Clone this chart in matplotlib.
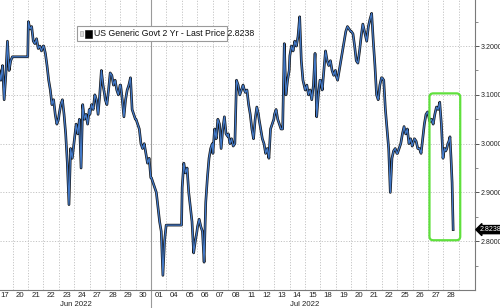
import numpy as np
import matplotlib
matplotlib.use("Agg")
import matplotlib.pyplot as plt
from matplotlib.patches import FancyBboxPatch, Rectangle
import matplotlib.transforms as mtransforms

plt.rcParams['font.family'] = ['Liberation Sans Narrow', 'Liberation Sans', 'DejaVu Sans']

# ---------------- data ----------------
june_days = ['17', '20', '21', '22', '23', '24', '27', '28', '29', '30']
july_days = ['01', '04', '05', '06', '07', '08', '11', '12', '13', '14', '15',
             '18', '19', '20', '21', '22', '25', '26', '27', '28']
month_labels = ['Jun 2022', 'Jul 2022']

# intraday samples (yield %) for each trading day, evenly spaced in the day
june_yields = [
    [3.16, 3.15, 3.13, 3.16, 3.09, 3.14, 3.21, 3.15, 3.17, 3.178],   # Jun 17
    [3.178, 3.178],                                                 # Jun 20 (holiday)
    [3.25, 3.235, 3.24, 3.21, 3.205, 3.215, 3.195, 3.20, 3.19, 3.20],
    [3.20, 3.185, 3.16, 3.13, 3.11, 3.08, 3.09, 3.06, 3.04, 3.05],
    [3.06, 3.08, 3.09, 3.06, 3.02, 2.96, 2.875, 2.99, 2.97, 3.00],
    [3.01, 3.04, 3.02, 3.05, 2.95, 3.08, 3.05, 3.06, 3.04, 3.07],
    [3.06, 3.08, 3.07, 3.10, 3.09, 3.06, 3.10, 3.15, 3.12, 3.10],
    [3.09, 3.08, 3.11, 3.145, 3.14, 3.12, 3.13, 3.11, 3.10, 3.12],
    [3.12, 3.09, 3.055, 3.09, 3.11, 3.12, 3.135, 3.07, 3.06, 3.05],
    [3.05, 3.04, 3.03, 3.00, 2.99, 3.00, 2.98, 2.96, 2.97, 2.93],
]
july_yields = [
    [2.93, 2.92, 2.91, 2.90, 2.87, 2.84, 2.82, 2.73, 2.80, 2.833],   # Jul 01
    [2.833, 2.833],                                                 # Jul 04 (holiday)
    [2.91, 2.96, 2.94, 2.95, 2.90, 2.87, 2.84, 2.776, 2.80, 2.82],
    [2.83, 2.845, 2.83, 2.82, 2.757, 2.88, 2.93, 2.97, 2.99, 3.00],
    [2.98, 3.03, 3.01, 3.05, 3.04, 2.99, 3.03, 3.055, 3.02, 3.015],
    [3.02, 3.00, 3.01, 2.995, 3.00, 3.13, 3.12, 3.10, 3.11, 3.12],
    [3.115, 3.105, 3.11, 3.08, 3.06, 3.03, 3.01, 3.05, 3.075, 3.06],
    [3.05, 3.03, 3.01, 3.00, 2.98, 2.99, 2.97, 3.03, 3.04, 3.05],
    [3.06, 3.07, 3.05, 3.04, 3.03, 3.03, 3.205, 3.10, 3.13, 3.15],
    [3.18, 3.20, 3.19, 3.21, 3.20, 3.22, 3.26, 3.17, 3.13, 3.115],
    [3.11, 3.12, 3.10, 3.11, 3.09, 3.12, 3.185, 3.055, 3.10, 3.13],
    [3.13, 3.11, 3.15, 3.19, 3.17, 3.16, 3.17, 3.15, 3.14, 3.15],
    [3.14, 3.13, 3.15, 3.17, 3.19, 3.21, 3.23, 3.24, 3.235, 3.23],
    [3.23, 3.225, 3.20, 3.17, 3.165, 3.19, 3.22, 3.245, 3.23, 3.215],
    [3.21, 3.24, 3.255, 3.267, 3.21, 3.16, 3.10, 3.09, 3.12, 3.135],
    [3.135, 3.13, 3.07, 3.03, 2.99, 2.90, 2.97, 2.985, 2.99, 2.98],
    [2.98, 2.99, 3.00, 3.02, 3.035, 3.02, 3.03, 3.00, 3.01, 2.995],
    [3.00, 3.01, 3.005, 2.99, 2.99, 2.98, 3.01, 3.04, 3.06, 3.065],
    [3.06, 3.045, 3.05, 3.04, 3.06, 3.075, 3.07, 3.085, 3.04, 2.97],
    [2.98, 2.99, 2.985, 2.99, 3.00, 3.005, 3.014, 2.97, 2.92, 2.8238],  # Jul 28 (partial)
]
last_price = 2.8238
last_day_fraction = 0.64          # share of the last session already traded
series_name = 'US Generic Govt 2 Yr - Last Price'
y_major = [2.8, 2.9, 3.0, 3.1, 3.2]
y_minor = [2.75, 2.85, 2.95, 3.05, 3.15, 3.25]
highlight_days = (28.1, 30.1)     # trading-day span of the highlight box
highlight_yields = (2.802, 3.103)

# ---------------- build series ----------------
all_days = june_days + july_days
all_yields = june_yields + july_yields
n_days = len(all_days)
xs, ys = [], []
for i, vals in enumerate(all_yields):
    end = last_day_fraction if i == n_days - 1 else 0.98
    pos = i + np.linspace(0.02, end, len(vals))
    xs.extend(pos)
    ys.extend(vals)
xs = np.array(xs)
ys = np.array(ys)

# ---------------- figure ----------------
fig = plt.figure(figsize=(5.0, 3.08), dpi=100)
ax = fig.add_axes([0.0, 18 / 308, 475 / 500, 290 / 308])
ax.set_xlim(0.1756, 31.06)
ax.set_ylim(2.7, 3.2944)

grid_c = '#c4c4c4'
for i in range(1, n_days + 1):
    if i == len(june_days):
        continue
    ax.axvline(i, color=grid_c, lw=0.7, ls=(0, (1.2, 1.6)), zorder=1)
for v in y_major:
    ax.axhline(v, color=grid_c, lw=0.7, ls=(0, (1.2, 1.6)), zorder=1)

# month separator (solid, extends below the axis)
blend = mtransforms.blended_transform_factory(ax.transData, ax.transAxes)
ax.plot([len(june_days)] * 2, [-0.065, 1.0], transform=blend, color='#9a9a9a',
        lw=0.8, clip_on=False, zorder=1)

# series: dark underlay + blue overlay
ax.plot(xs, ys, color='#151515', lw=1.9, zorder=3)
ax.plot(xs, ys, color='#4279c8', lw=0.9, zorder=4)

# spines
for s in ['left', 'top']:
    ax.spines[s].set_visible(False)
for s in ['bottom', 'right']:
    ax.spines[s].set_color('#7a7a7a')
    ax.spines[s].set_linewidth(0.8)

# y axis on right
ax.yaxis.tick_right()
ax.set_yticks(y_major)
ax.set_yticks(y_minor, minor=True)
ax.set_yticklabels([f'{v:.4f}' for v in y_major])
ax.tick_params(axis='y', which='major', length=3, width=0.7, color='#555555',
               labelsize=5.0, pad=1.0, labelcolor='#222222')
ax.tick_params(axis='y', which='minor', length=2, width=0.6, color='#777777')

# x axis
ax.set_xticks(np.arange(n_days) + 0.5)
ax.set_xticklabels(all_days)
ax.tick_params(axis='x', length=0, labelsize=5.6, pad=1.5, labelcolor='#222222')

# month labels
x_left = ax.get_xlim()[0]
ax.text((x_left + len(june_days)) / 2, -0.05, month_labels[0], transform=blend,
        ha='center', va='center', fontsize=5.6, color='#222222')
ax.text((len(june_days) + n_days) / 2, -0.05, month_labels[1], transform=blend,
        ha='center', va='center', fontsize=5.6, color='#222222')

# legend box
ax.add_patch(Rectangle((77 / 475, 1 - 41 / 290), 150 / 475, 15 / 290, transform=ax.transAxes,
                       facecolor='white', edgecolor='#9a9a9a', lw=0.8, zorder=6))
ax.add_patch(Rectangle((80 / 475, 1 - 36 / 290), 3 / 475, 5 / 290, transform=ax.transAxes,
                       facecolor='#dddddd', edgecolor='#999999', lw=0.4, zorder=7))
ax.add_patch(Rectangle((85 / 475, 1 - 38 / 290), 7 / 475, 8 / 290, transform=ax.transAxes,
                       facecolor='black', edgecolor='black', lw=0.4, zorder=7))
ax.text(94 / 475, 1 - 33.5 / 290, f'{series_name} {last_price:.4f}', transform=ax.transAxes,
        ha='left', va='center', fontsize=6.3, color='#111111', zorder=8)

# highlight box (rounded, green)
(x0, y0) = ax.transAxes.inverted().transform(ax.transData.transform((highlight_days[0], highlight_yields[0])))
(x1, y1) = ax.transAxes.inverted().transform(ax.transData.transform((highlight_days[1], highlight_yields[1])))
aspect = (475 / 290)
ax.add_patch(FancyBboxPatch((x0, y0), x1 - x0, y1 - y0, transform=ax.transAxes,
                            boxstyle='round,pad=0,rounding_size=0.008',
                            mutation_aspect=aspect, facecolor='none',
                            edgecolor='#5fe03c', lw=1.6, zorder=5, clip_on=False))

# last price tag
ytr = mtransforms.blended_transform_factory(ax.transAxes, ax.transData)
ax.text(1.0 + 5 / 475, last_price, f'{last_price:.4f}', transform=ytr, ha='left', va='center',
        fontsize=5.0, color='white', zorder=9, clip_on=False,
        bbox=dict(boxstyle='larrow,pad=0.08', facecolor='black', edgecolor='black'))

fig.savefig('out.png', dpi=100)
